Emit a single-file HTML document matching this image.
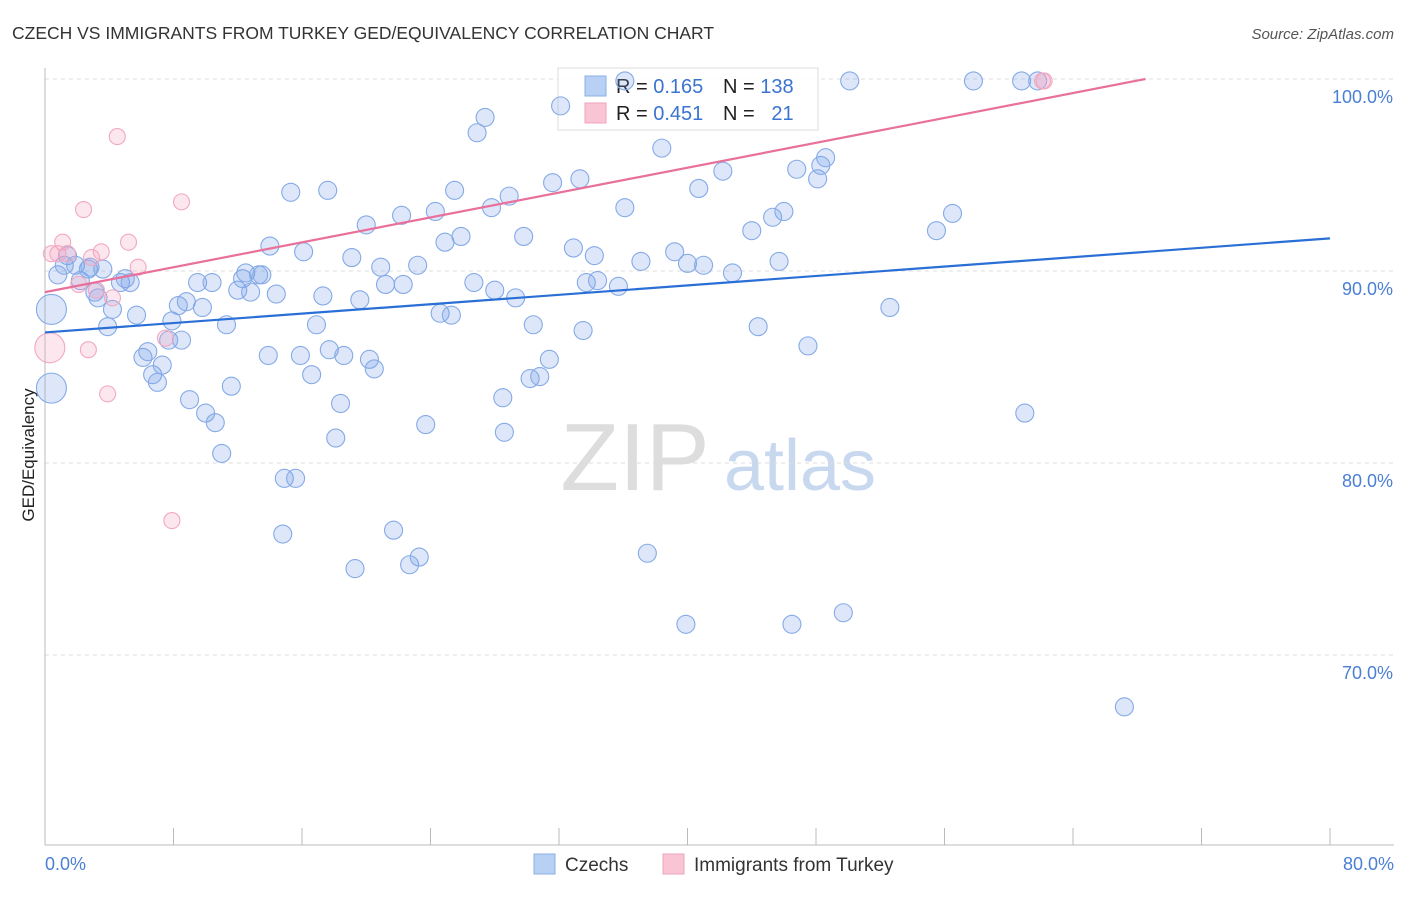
<!DOCTYPE html>
<html><head><meta charset="utf-8"><style>
body{margin:0;background:#fff;font-family:"Liberation Sans",sans-serif}
svg text{font-family:"Liberation Sans",sans-serif}
</style></head><body>
<svg id="chart" width="1406" height="892" xmlns="http://www.w3.org/2000/svg">
<text x="12" y="39" font-size="17.5" fill="#333">CZECH VS IMMIGRANTS FROM TURKEY GED/EQUIVALENCY CORRELATION CHART</text>
<text x="1394" y="39" font-size="15" fill="#555" text-anchor="end" font-style="italic">Source: ZipAtlas.com</text>
<text transform="translate(34,455) rotate(-90)" font-size="17" fill="#222" text-anchor="middle">GED/Equivalency</text>
<g><text x="635" y="490" font-size="96" fill="#ddd" font-family="Liberation Serif" text-anchor="middle">ZIP</text><text x="800" y="490" font-size="72" fill="#c8d8ef" text-anchor="middle">atlas</text></g>
<g id="grid"></g><g id="axes"></g>
<g>
<rect x="558" y="68" width="260" height="62" fill="#fff" fill-opacity="0.85" stroke="#ddd"/>
<rect x="585" y="76" width="21" height="20" fill="#b8d0f4" stroke="#8ab0e6"/>
<rect x="585" y="103" width="21" height="20" fill="#f9c4d3" stroke="#f0a4bc"/>
<text x="616" y="93" font-size="20" fill="#222">R = <tspan fill="#3a74d0">0.165</tspan></text>
<text x="723" y="93" font-size="20" fill="#222">N = <tspan fill="#3a74d0">138</tspan></text>
<text x="616" y="120" font-size="20" fill="#222">R = <tspan fill="#3a74d0">0.451</tspan></text>
<text x="723" y="120" font-size="20" fill="#222">N = <tspan fill="#3a74d0">&#160; 21</tspan></text>
</g>
<g id="pts"></g><g id="lines"></g>
<g>
<rect x="534" y="854" width="21" height="20" fill="#b8d0f4" stroke="#8ab0e6"/>
<text x="565" y="871" font-size="19" fill="#333">Czechs</text>
<rect x="663" y="854" width="21" height="20" fill="#f9c4d3" stroke="#f0a4bc"/>
<text x="694" y="871" font-size="19" fill="#333">Immigrants from Turkey</text>
</g>
</svg>
<script>
const czX=[0.4,0.4,0.8,1.2,1.4,1.9,2.2,2.7,2.8,3.1,3.3,3.6,3.9,4.2,4.7,5.0,5.3,5.7,6.1,6.4,6.7,7.0,7.3,7.7,7.9,8.3,8.5,8.8,9.0,9.5,9.8,10.0,10.4,10.6,11.0,11.3,11.6,12.0,12.3,12.5,12.8,13.3,13.5,13.9,14.0,14.4,14.9,15.3,15.6,14.8,15.9,16.1,16.6,16.9,17.3,17.6,17.7,18.1,18.4,18.6,19.1,19.3,19.6,20.0,20.2,20.5,20.9,21.2,21.7,22.2,22.3,22.7,23.2,23.3,23.7,24.3,24.6,24.9,25.3,25.5,25.9,26.7,26.9,27.4,27.8,28.0,28.5,28.6,28.9,29.3,29.8,30.2,30.4,30.8,31.4,31.6,32.1,32.9,33.3,33.7,33.5,34.2,34.4,35.7,36.1,36.1,37.1,37.5,38.4,39.2,39.9,40.0,40.7,41.0,42.2,42.8,44.0,44.4,45.3,45.7,46.0,46.5,46.8,47.5,48.1,48.3,48.6,49.7,50.1,52.6,55.5,56.5,57.8,60.8,61.0,61.8,67.2];
const czY=[88.0,83.9,89.8,90.3,90.8,90.3,89.5,90.1,90.2,88.9,88.6,90.1,87.1,88.0,89.4,89.6,89.4,87.7,85.5,85.8,84.6,84.2,85.1,86.4,87.4,88.2,86.4,88.4,83.3,89.4,88.1,82.6,89.4,82.1,80.5,87.2,84.0,89.0,89.6,89.9,88.9,89.8,89.8,85.6,91.3,88.8,79.2,94.1,79.2,76.3,85.6,91.0,84.6,87.2,88.7,94.2,85.9,81.3,83.1,85.6,90.7,74.5,88.5,92.4,85.4,84.9,90.2,89.3,76.5,92.9,89.3,74.7,90.3,75.1,82.0,93.1,87.8,91.5,87.7,94.2,91.8,89.4,97.2,98.0,93.3,89.0,83.4,81.6,93.9,88.6,91.8,84.4,87.2,84.5,85.4,94.6,98.6,91.2,94.8,89.4,86.9,90.8,89.5,89.2,93.3,99.9,90.5,75.3,96.4,91.0,71.6,90.4,94.3,90.3,95.2,89.9,92.1,87.1,92.8,90.5,93.1,71.6,95.3,86.1,94.8,95.5,95.9,72.2,99.9,88.1,92.1,93.0,99.9,99.9,82.6,99.9,67.3];
const trX=[0.3,0.4,0.8,1.1,1.4,2.1,2.4,2.7,2.9,3.2,3.5,3.9,4.2,4.5,5.2,5.8,7.5,7.9,8.5,62.1,62.2];
const trY=[86.0,90.9,90.9,91.5,90.9,89.3,93.2,85.9,90.7,89.0,91.0,83.6,88.6,97.0,91.5,90.2,86.5,77.0,93.6,99.9,99.9];
const czTrend=[86.8,91.7];   // y at x=0, y at x=80
const trTrend=[88.9,0.162];  // intercept, slope
const yTicks=[100,90,80,70];
const NS="http://www.w3.org/2000/svg";
const X=v=>45+v*1285/80, Y=v=>79+(100-v)*19.2;
function mk(t,a,p){const e=document.createElementNS(NS,t);for(const k in a)e.setAttribute(k,a[k]);p.appendChild(e);return e;}
const grid=document.getElementById('grid'),axes=document.getElementById('axes'),pts=document.getElementById('pts'),lines=document.getElementById('lines');
yTicks.forEach(t=>{
 const l=mk('line',{x1:45,x2:1394,y1:Y(t),y2:Y(t),stroke:'#ddd','stroke-dasharray':'4,4'},grid);
 
 
 const tx=mk('text',{x:1393,y:Y(t)+24,'font-size':18,fill:'#4a7fd4','text-anchor':'end'},grid);
 tx.textContent=t.toFixed(1)+'%';
 
 
});
const ax=mk('line',{x1:45,x2:45,y1:68,y2:845,stroke:'#bbb'},axes);


const bx=mk('line',{x1:45,x2:1394,y1:845,y2:845,stroke:'#bbb'},axes);


for(let i=0;i<=10;i++){const t=mk('line',{x1:X(i*8),x2:X(i*8),y1:828,y2:845,stroke:'#bbb'},axes);
 
 }
[[0,'0.0%','start',45],[80,'80.0%','end',1394]].forEach(d=>{const t=mk('text',{x:d[3],y:870,'font-size':18,fill:'#4a7fd4','text-anchor':d[2]},axes);t.textContent=d[1];
 
 });
czX.forEach((x,i)=>{const c=mk('circle',{cx:X(x),cy:Y(czY[i]),r:i<2?15:9,fill:'rgba(120,160,230,0.25)',stroke:'#85aae6','stroke-width':1.1},pts);
 
 });
trX.forEach((x,i)=>{const c=mk('circle',{cx:X(x),cy:Y(trY[i]),r:i<1?15:8,fill:'rgba(245,160,190,0.25)',stroke:'#f2a8c0','stroke-width':1.1},pts);
 
 });
const bl=mk('line',{x1:X(0),y1:Y(czTrend[0]),x2:X(80),y2:Y(czTrend[1]),stroke:'#2a6fd6','stroke-width':2.2},lines);


const xEnd=(100-trTrend[0])/trTrend[1];
const pl=mk('line',{x1:X(0),y1:Y(trTrend[0]),x2:X(xEnd),y2:Y(100),stroke:'#e8709a','stroke-width':2.2},lines);


</script>
</body></html>
